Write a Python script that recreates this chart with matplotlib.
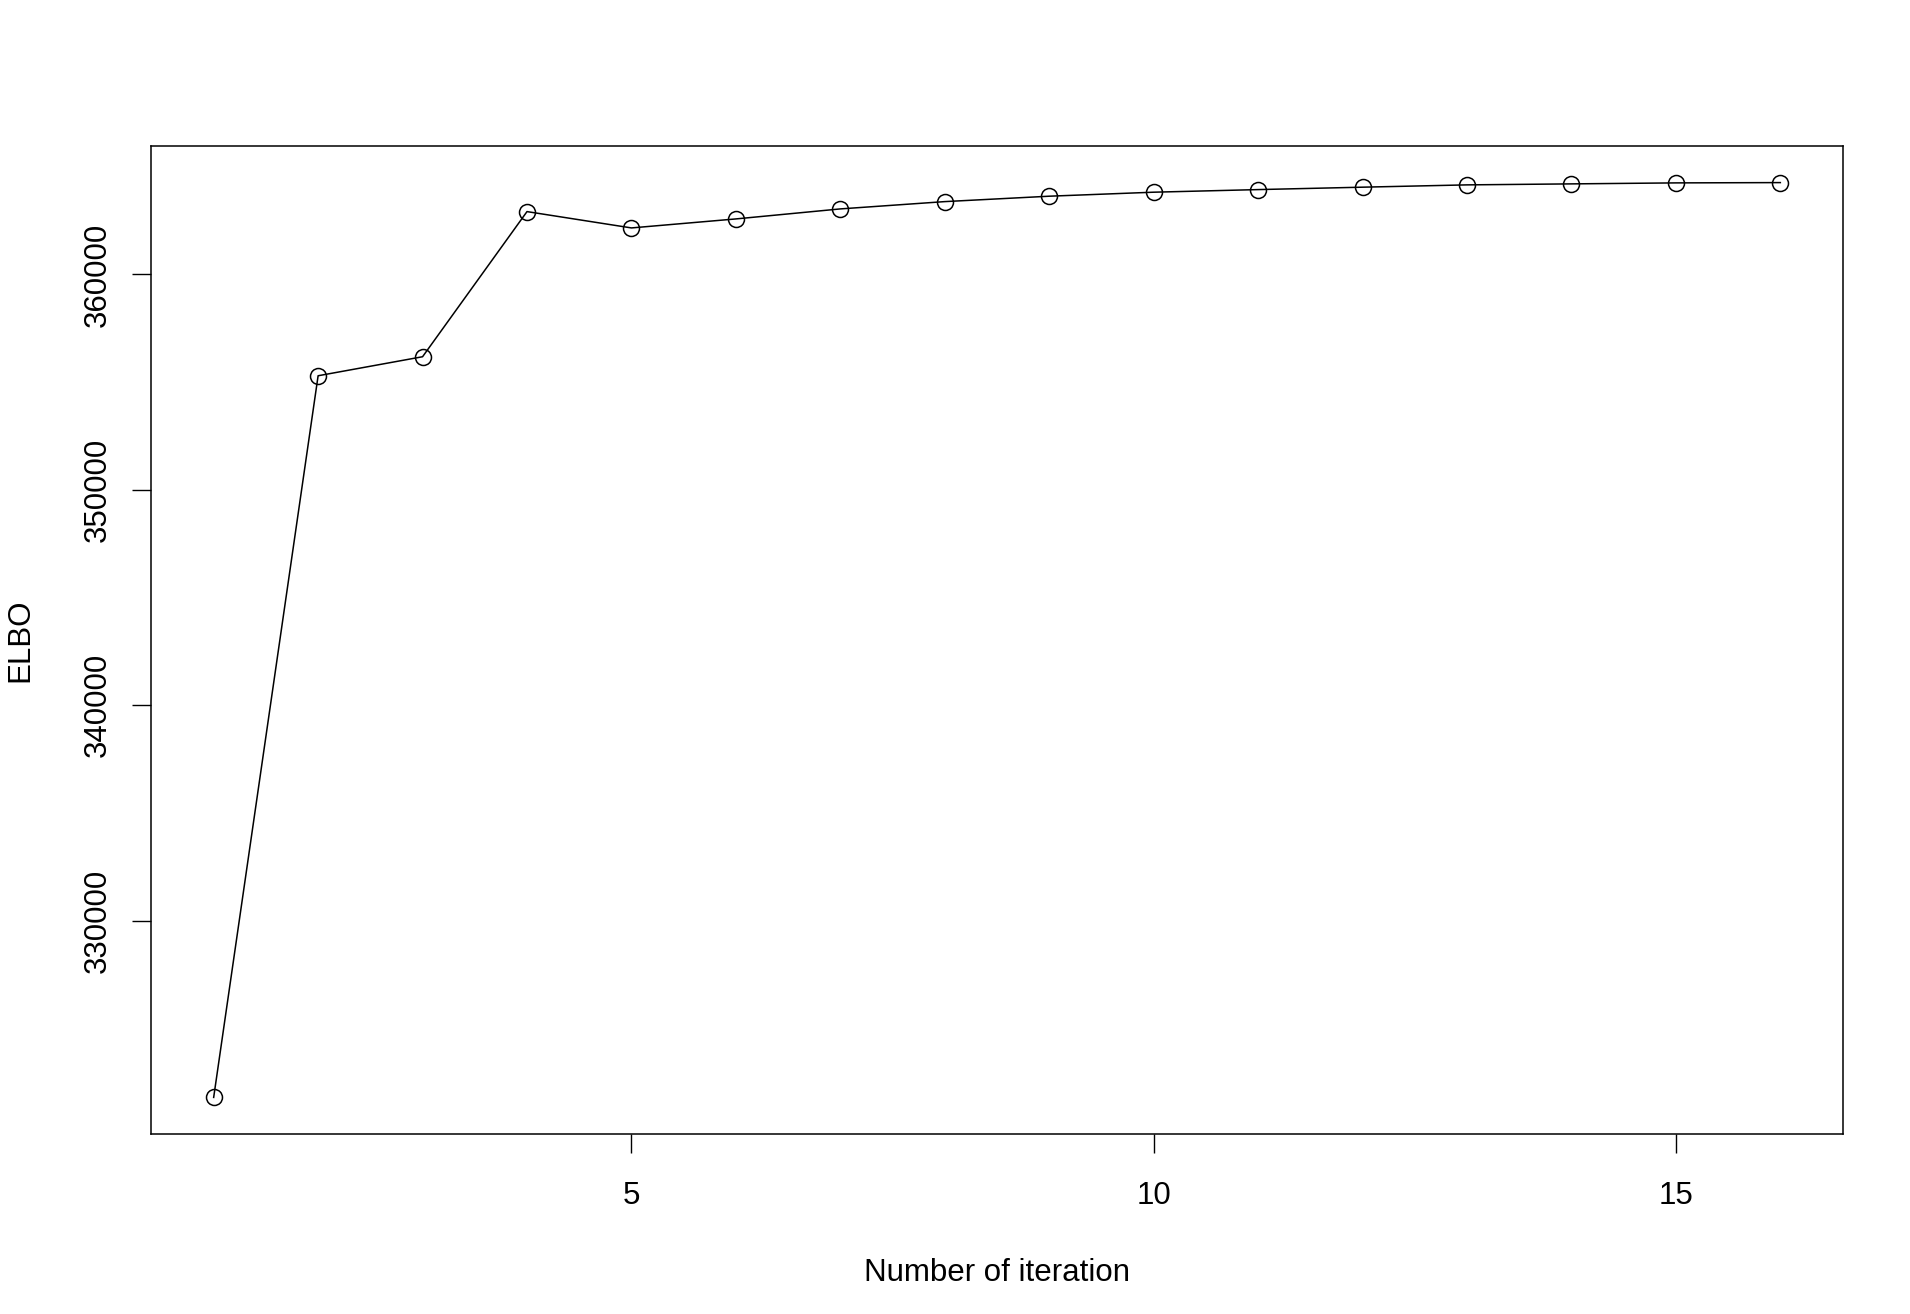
import numpy as np
import matplotlib
matplotlib.use('Agg')
import matplotlib.pyplot as plt

plt.rcParams['font.family'] = ['Liberation Sans', 'DejaVu Sans']

# ELBO per iteration
iterations = np.arange(1, 17)
elbo = [321789, 355297, 356180, 362919, 362161, 362579, 363044, 363383,
        363634, 363820, 363941, 364053, 364160, 364206, 364252, 364266]
x_ticks = [5, 10, 15]
y_ticks = [330000, 340000, 350000, 360000]

fig = plt.figure(figsize=(19.1, 13.14), dpi=100)
ax = fig.add_axes([151 / 1910, 1 - 1134 / 1314, (1843 - 151) / 1910, (1134 - 146) / 1314])

ax.plot(iterations, elbo, color='black', lw=1.1, marker='o', ms=11.5,
        mfc='none', mec='black', mew=1.1)
ax.margins(x=0.04, y=0.04)

ax.set_xticks(x_ticks)
ax.set_yticks(y_ticks)
ax.set_yticklabels([str(v) for v in y_ticks], rotation=90, va='center')
ax.tick_params(axis='both', length=13.5, width=1.0, labelsize=22.5)
ax.tick_params(axis='x', pad=20)
ax.tick_params(axis='y', pad=14)
for s in ax.spines.values():
    s.set_linewidth(1.1)

ax.set_xlabel('Number of iteration', fontsize=22.5, labelpad=34)
ax.set_ylabel('ELBO', fontsize=22.5, labelpad=34)

fig.savefig('out.png', dpi=100)
